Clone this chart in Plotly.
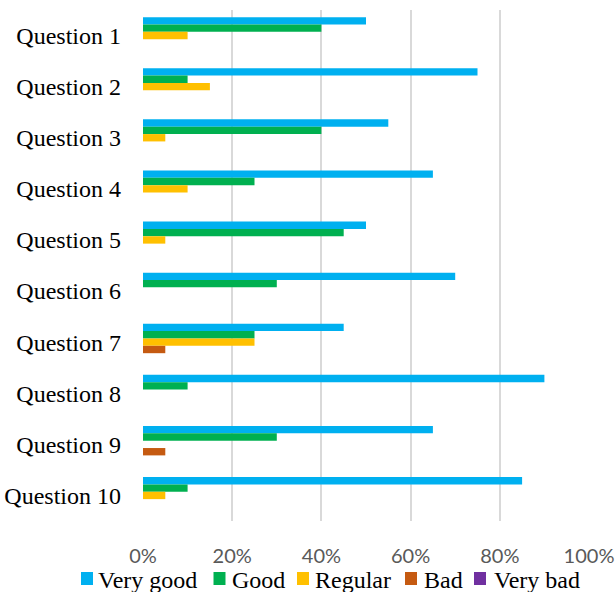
import plotly.graph_objects as go

questions = [f"Question {i}" for i in range(1, 11)]
very_good = [50, 75, 55, 65, 50, 70, 45, 90, 65, 85]
good = [40, 10, 40, 25, 45, 30, 25, 10, 30, 10]
regular = [10, 15, 5, 10, 5, 0, 25, 0, 0, 5]
bad = [0, 0, 0, 0, 0, 0, 5, 0, 5, 0]
very_bad = [0, 0, 0, 0, 0, 0, 0, 0, 0, 0]

series_names = ["Very good", "Good", "Regular", "Bad", "Very bad"]
series_values = [very_good, good, regular, bad, very_bad]
series_colors = ["#00B0F0", "#00B050", "#FFC000", "#C55A11", "#7030A0"]

W, H = 616, 592
M = dict(l=143, r=27, t=10, b=71)
plot_w = W - M["l"] - M["r"]
plot_h = H - M["t"] - M["b"]

fig = go.Figure()
for name, vals, color in zip(series_names, series_values, series_colors):
    fig.add_trace(go.Bar(
        y=questions, x=[v / 100 for v in vals], name=name, orientation="h",
        marker=dict(color=color, line=dict(width=0)), showlegend=False,
    ))


def px_x(px):
    return (px - M["l"]) / plot_w


def px_y(py):
    return (H - M["b"] - py) / plot_h


# legend row drawn below the axis: square swatch followed by its label
swatch_left = [81, 213.5, 297, 405, 474]
label_left = [97, 230.5, 314, 422.5, 493]
sw_top, sw_bot, label_mid = 572, 585, 580
shapes, annotations = [], []
for name, color, sx, tx in zip(series_names, series_colors, swatch_left, label_left):
    shapes.append(dict(
        type="rect", xref="paper", yref="paper",
        x0=px_x(sx), x1=px_x(sx + 12), y0=px_y(sw_bot), y1=px_y(sw_top),
        fillcolor=color, line=dict(width=0),
    ))
    annotations.append(dict(
        xref="paper", yref="paper", x=px_x(tx), y=px_y(label_mid),
        xanchor="left", yanchor="middle", showarrow=False, text=name,
        borderpad=0,
        font=dict(family="Liberation Serif", size=24, color="#000000"),
    ))

fig.update_layout(
    width=W, height=H,
    margin=M,
    paper_bgcolor="white", plot_bgcolor="white",
    barmode="group", bargap=0.28, bargroupgap=0,
    showlegend=False,
    shapes=shapes, annotations=annotations,
    xaxis=dict(
        range=[0, 1], tickvals=[0, 0.2, 0.4, 0.6, 0.8, 1.0], tickformat=".0%",
        showgrid=True, gridcolor="#D9D9D9", gridwidth=1.5,
        zeroline=False, showline=False, ticks="", automargin=False,
        ticklabelstandoff=21,
        tickfont=dict(family="Lato", size=20, color="#595959"),
    ),
    yaxis=dict(
        autorange="reversed", showgrid=False, zeroline=False, showline=False,
        ticks="", ticklabelstandoff=21, automargin=False,
        tickfont=dict(family="Liberation Serif", size=24, color="#000000"),
    ),
)

fig.write_html("out.html")
